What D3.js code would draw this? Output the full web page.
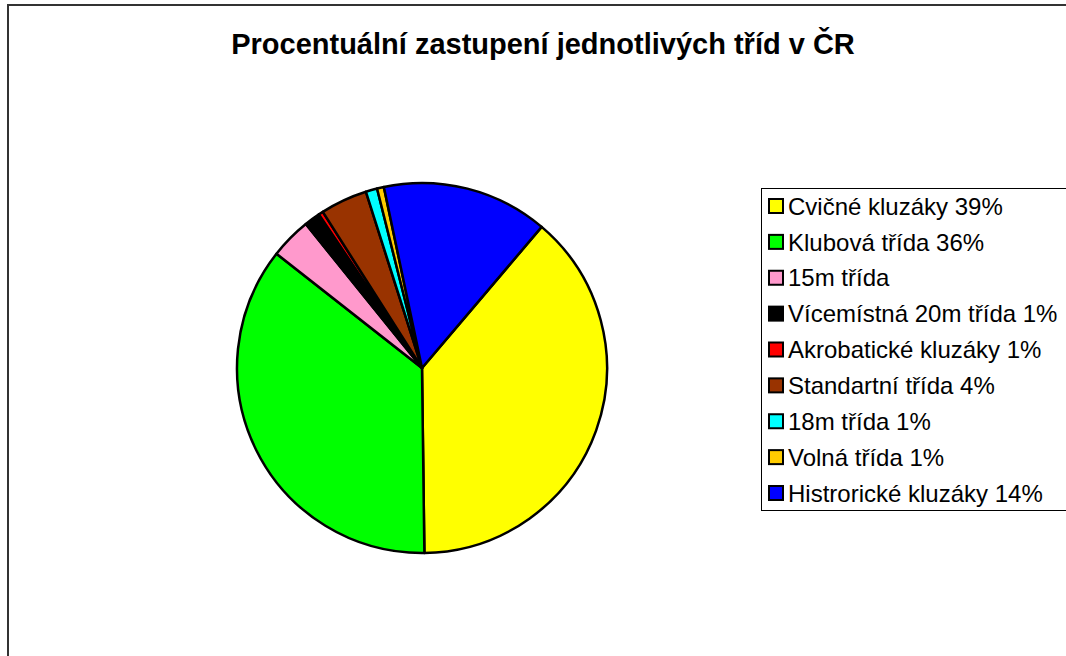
<!DOCTYPE html>
<html>
<head>
<meta charset="utf-8">
<script src="https://cdn.jsdelivr.net/npm/d3@7"></script>
<style>
  body { margin: 0; background: #fff; }
  svg { display: block; font-family: "Liberation Sans", Arial, sans-serif; }
</style>
</head>
<body>
<div id="content"></div>
<script>
// chart data
const CATEGORIES = ['Cvičné kluzáky', 'Klubová třída', '15m třída', 'Vícemístná 20m třída',
  'Akrobatické kluzáky', 'Standartní třída', '18m třída', 'Volná třída', 'Histrorické kluzáky'];
const LEGEND_LABELS = ['Cvičné kluzáky 39%', 'Klubová třída 36%', '15m třída', 'Vícemístná 20m třída 1%',
  'Akrobatické kluzáky 1%', 'Standartní třída 4%', '18m třída 1%', 'Volná třída 1%', 'Histrorické kluzáky 14%'];
const VALUES = [38.6, 35.8, 3.6, 1.4, 0.4, 4.1, 1.0, 0.6, 14.5];
const COLORS = ['#ffff00', '#00ff00', '#ff99cc', '#000000', '#ff0000', '#993300', '#00ffff', '#ffcc00', '#0000ff'];

var width = 1066;
var height = 656;

var svg = d3.select('#content')
  .append('svg')
  .attr('width', width)
  .attr('height', height);

// chart frame (cut off at right and bottom)
svg.append('rect')
  .attr('x', 8)
  .attr('y', 5)
  .attr('width', width + 20)
  .attr('height', height + 20)
  .attr('fill', 'none')
  .attr('stroke', '#333')
  .attr('stroke-width', 2);

svg.append('text')
  .attr('x', 543)
  .attr('y', 54)
  .attr('text-anchor', 'middle')
  .attr('font-weight', 'bold')
  .attr('font-size', 29)
  .text('Procentuální zastupení jednotlivých tříd v ČR');

var data = CATEGORIES.map((c, i) => ({name: c, value: VALUES[i], color: COLORS[i]}));

var start = 40.3 * Math.PI / 180;
var pie = d3.pie()
  .sort(null)
  .value(d => d.value)
  .startAngle(start)
  .endAngle(start + 2 * Math.PI);

var arc = d3.arc()
  .innerRadius(0)
  .outerRadius(185);

var g = svg.append('g')
  .attr('transform', 'translate(422, 368)');

g.selectAll('path')
  .data(pie(data))
  .enter()
  .append('path')
  .attr('d', arc)
  .attr('fill', d => d.data.color)
  .attr('stroke', '#000')
  .attr('stroke-width', 2.5)
  .attr('stroke-linejoin', 'round');

// legend
var legend = svg.append('g');
legend.append('rect')
  .attr('x', 761.5)
  .attr('y', 188.5)
  .attr('width', 320)
  .attr('height', 322)
  .attr('fill', '#fff')
  .attr('stroke', '#000')
  .attr('stroke-width', 1);

var rowY = d3.scalePoint()
  .domain(d3.range(LEGEND_LABELS.length))
  .range([206, 493]);

var items = legend.selectAll('.item')
  .data(LEGEND_LABELS)
  .enter()
  .append('g')
  .attr('class', 'item')
  .attr('transform', (d, i) => 'translate(0,' + rowY(i) + ')');

items.append('rect')
  .attr('x', 769)
  .attr('y', -7)
  .attr('width', 14)
  .attr('height', 14)
  .attr('fill', (d, i) => COLORS[i])
  .attr('stroke', '#000')
  .attr('stroke-width', 2);

items.append('text')
  .attr('x', 788)
  .attr('y', 0)
  .attr('dy', '0.36em')
  .attr('font-size', 24)
  .text(d => d);
</script>
</body>
</html>
